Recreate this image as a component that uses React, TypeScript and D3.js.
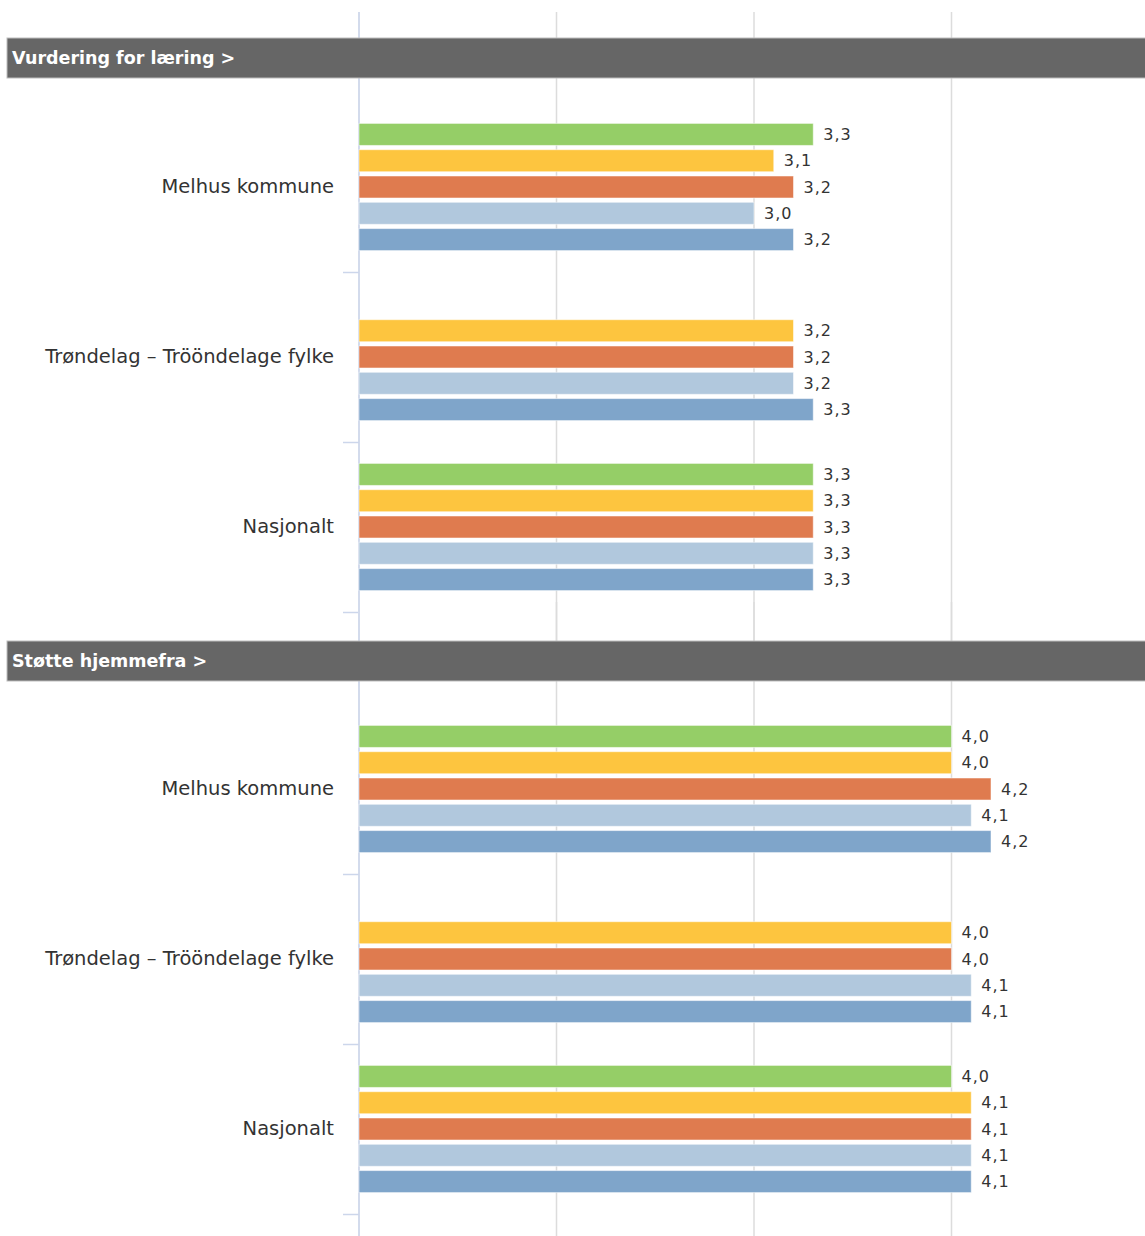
import React from "react";
import * as d3 from "d3";

const categories = ["Melhus kommune", "Trøndelag – Trööndelage fylke", "Nasjonalt"];
const sectionTitles = ["Vurdering for læring >", "Støtte hjemmefra >"];
const seriesNames = ["Serie 1", "Serie 2", "Serie 3", "Serie 4", "Serie 5"];
const seriesColors = ["#95ce67", "#fdc53f", "#df7b4f", "#b1c8dd", "#7fa5ca"];
// values per category, one entry per series (null = no data)
const vurderingForLaering: (number | null)[][] = [
  [3.3, 3.1, 3.2, 3.0, 3.2],
  [null, 3.2, 3.2, 3.2, 3.3],
  [3.3, 3.3, 3.3, 3.3, 3.3],
];
const stotteHjemmefra: (number | null)[][] = [
  [4.0, 4.0, 4.2, 4.1, 4.2],
  [null, 4.0, 4.0, 4.1, 4.1],
  [4.0, 4.1, 4.1, 4.1, 4.1],
];
const xDomain = [1, 5];
const xTicks = [1, 2, 3, 4, 5];

const W = 1145;
const H = 1236;

const x = d3.scaleLinear().domain(xDomain).range([359, 1149]);

const fmt = (v: number) => d3.format(".1f")(v).replace(".", ",");

type ChartProps = {
  title: string;
  data: (number | null)[][];
  top: number;
  bottom: number;
  headerY: number;
  bandStart: number;
  bandEnd: number;
};

function Chart({ title, data, top, bottom, headerY, bandStart, bandEnd }: ChartProps) {
  const y = d3.scaleBand<string>().domain(categories).range([bandStart, bandEnd]).padding(0);
  const bw = y.bandwidth();
  const inner = d3
    .scaleBand<number>()
    .domain(d3.range(seriesNames.length))
    .range([bw * 0.126, bw * 0.874])
    .paddingInner(0.163)
    .paddingOuter(0);
  return (
    <g>
      {xTicks.slice(1).map((t) => (
        <line key={t} x1={x(t)} x2={x(t)} y1={top} y2={bottom} stroke="#dcdcdc" strokeWidth={1.5} />
      ))}
      <line x1={359} x2={359} y1={top} y2={bottom} stroke="#d3dbec" strokeWidth={2} />
      {categories.slice(1).map((c) => (
        <line key={c} x1={343} x2={359} y1={(y(c) as number) + 0.5} y2={(y(c) as number) + 0.5} stroke="#ccd6eb" strokeWidth={1.5} />
      ))}
      <line x1={343} x2={359} y1={bandEnd + 0.5} y2={bandEnd + 0.5} stroke="#ccd6eb" strokeWidth={1.5} />
      <rect x={7} y={headerY} width={W - 7 + 2} height={40} fill="#666666" stroke="#bdbdbd" strokeWidth={1} />
      <text x={12} y={headerY + 25.5} fill="#ffffff" fontFamily="DejaVu Sans" fontWeight="bold" fontSize={17.5}>
        {title}
      </text>
      {categories.map((c, ci) => {
        const y0 = y(c) as number;
        return (
          <g key={c}>
            <text
              x={334}
              y={y0 + bw / 2 - 1}
              textAnchor="end"
              dominantBaseline="central"
              fontFamily="DejaVu Sans"
              fontSize={19.5}
              fill="#333333"
            >
              {c}
            </text>
            {data[ci].map((v, si) => {
              if (v == null) return null;
              const by = y0 + (inner(si) as number);
              const bh = inner.bandwidth();
              return (
                <g key={si}>
                  <rect
                    x={x(xDomain[0])}
                    y={by}
                    width={x(v) - x(xDomain[0])}
                    height={bh}
                    fill={seriesColors[si]}
                    stroke="#ffffff"
                    strokeOpacity={0.5}
                    strokeWidth={1}
                  />
                  <text
                    x={x(v) + 10}
                    y={by + bh / 2}
                    dominantBaseline="central"
                    fontFamily="DejaVu Sans"
                    fontSize={16}
                    letterSpacing={1}
                    fill="#333333"
                  >
                    {fmt(v)}
                  </text>
                </g>
              );
            })}
          </g>
        );
      })}
    </g>
  );
}

export default function App() {
  return (
    <svg
      width={W}
      height={H}
      viewBox={`0 0 ${W} ${H}`}
      style={{ position: "absolute", left: 0, top: 0, background: "#ffffff" }}
    >
      <Chart title={sectionTitles[0]} data={vurderingForLaering} top={12} bottom={641} headerY={38} bandStart={102} bandEnd={612} />
      <Chart title={sectionTitles[1]} data={stotteHjemmefra} top={602} bottom={1236} headerY={641} bandStart={704} bandEnd={1214} />
    </svg>
  );
}
